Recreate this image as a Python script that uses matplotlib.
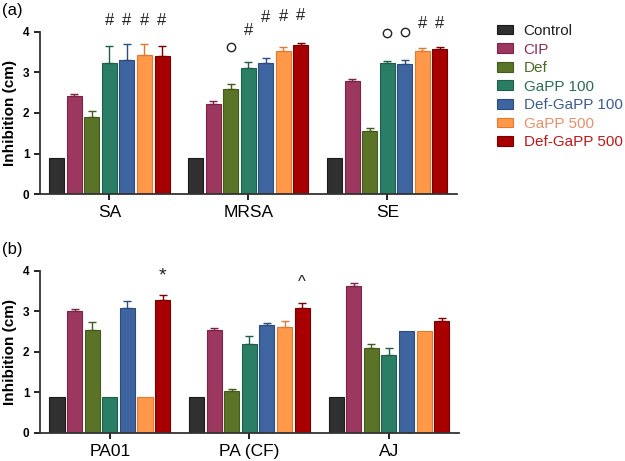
import numpy as np
import matplotlib
matplotlib.use('Agg')
import matplotlib.pyplot as plt
from matplotlib.patches import Patch

plt.rcParams['font.family'] = ['Liberation Sans', 'DejaVu Sans']

series = ['Control', 'CIP', 'Def', 'GaPP 100', 'Def-GaPP 100', 'GaPP 500', 'Def-GaPP 500']
colors = ['#303030', '#9c3760', '#597427', '#2a7e66', '#3f65a1', '#ff9848', '#a80000']
edges = ['#1a1a1a', '#7a2448', '#44591c', '#1d5f4c', '#2c4c7e', '#e07a30', '#7a0000']
text_colors = ['#202020', '#8a2f55', '#4d6a26', '#2a6e58', '#3d5c8c', '#e8906a', '#c01818']

groups_a = ['SA', 'MRSA', 'SE']
vals_a = [
    [0.90, 0.90, 0.90],   # Control
    [2.42, 2.21, 2.78],   # CIP
    [1.89, 2.60, 1.56],   # Def
    [3.23, 3.12, 3.24],   # GaPP 100
    [3.30, 3.23, 3.21],   # Def-GaPP 100
    [3.42, 3.52, 3.53],   # GaPP 500
    [3.40, 3.67, 3.57],   # Def-GaPP 500
]
errs_a = [
    [0.00, 0.00, 0.00],
    [0.04, 0.08, 0.05],
    [0.17, 0.11, 0.06],
    [0.42, 0.13, 0.05],
    [0.39, 0.12, 0.10],
    [0.29, 0.10, 0.07],
    [0.24, 0.06, 0.06],
]

groups_b = ['PA01', 'PA (CF)', 'AJ']
vals_b = [
    [0.89, 0.89, 0.89],
    [3.01, 2.53, 3.63],
    [2.54, 1.02, 2.09],
    [0.89, 2.19, 1.92],
    [3.09, 2.65, 2.50],
    [0.89, 2.60, 2.50],
    [3.28, 3.09, 2.77],
]
errs_b = [
    [0.00, 0.00, 0.00],
    [0.04, 0.05, 0.06],
    [0.20, 0.05, 0.10],
    [0.00, 0.19, 0.16],
    [0.16, 0.05, 0.00],
    [0.00, 0.17, 0.00],
    [0.12, 0.11, 0.06],
]

# significance marks: (group, series index, symbol, y)
marks_a = [(0, 3, '#', 4.28), (0, 4, '#', 4.28), (0, 5, '#', 4.28), (0, 6, '#', 4.28),
           (1, 2, 'o', 3.62), (1, 3, '#', 4.04), (1, 4, '#', 4.36), (1, 5, '#', 4.38), (1, 6, '#', 4.40),
           (2, 3, 'o', 3.96), (2, 4, 'o', 4.00), (2, 5, '#', 4.20), (2, 6, '#', 4.20)]
marks_b = [(0, 6, '*', 3.86), (1, 6, '^', 3.71)]

PITCH = 0.126
WIDTH = 0.108


def panel(ax, groups, vals, errs, marks, tag):
    x = np.arange(len(groups))
    for i, s in enumerate(series):
        pos = x + (i - 3) * PITCH
        ax.bar(pos, vals[i], WIDTH, color=colors[i], edgecolor=edges[i], lw=0.8, zorder=2)
        e = np.array(errs[i])
        has = e > 0
        if has.any():
            ax.errorbar(pos[has], np.array(vals[i])[has], yerr=[np.zeros(has.sum()), e[has]],
                        fmt='none', ecolor=edges[i], elinewidth=1.0, capsize=3, capthick=1.0, zorder=3)
    for g, i, sym, y in marks:
        px = g + (i - 3) * PITCH
        if sym == 'o':
            ax.plot(px, y, 'o', ms=6, mfc='none', mec='#222222', mew=1.0, clip_on=False)
        else:
            fs = 12 if sym != '*' else 14
            ax.text(px, y, sym, ha='center', va='center', fontsize=fs, color='#222222', clip_on=False)
    ax.set_xlim(-0.5, 2.5)
    ax.set_ylim(0, 4)
    ax.set_yticks([0, 1, 2, 3, 4])
    ax.set_xticks(x)
    ax.set_xticklabels(groups, fontsize=12.5)
    ax.tick_params(axis='y', labelsize=8.5, length=4, width=1.2, direction='out')
    ax.tick_params(axis='x', length=4, width=1.2, direction='out', pad=4)
    for lab in ax.get_yticklabels():
        lab.set_fontweight('bold')
    for sp in ('top', 'right'):
        ax.spines[sp].set_visible(False)
    for sp in ('left', 'bottom'):
        ax.spines[sp].set_linewidth(1.3)
        ax.spines[sp].set_color('#333333')
    ax.set_ylabel('Inhibition (cm)', fontsize=11, fontweight='bold', labelpad=4)
    ax.text(-0.09, 1.13, tag, transform=ax.transAxes, fontsize=12, ha='left', va='center')


fig = plt.figure(figsize=(6.25, 4.61), dpi=100)
ax1 = fig.add_axes([0.064, 0.579, 0.667, 0.352])
ax2 = fig.add_axes([0.064, 0.061, 0.670, 0.352])
panel(ax1, groups_a, vals_a, errs_a, marks_a, '(a)')
panel(ax2, groups_b, vals_b, errs_b, marks_b, '(b)')

handles = [Patch(facecolor=colors[i], edgecolor=edges[i], lw=0.8) for i in range(len(series))]
leg = fig.legend(handles, series, loc='upper left', bbox_to_anchor=(0.795, 0.948), frameon=False,
                 fontsize=11, handlelength=1.05, handleheight=0.6, handletextpad=0.7,
                 labelspacing=0.30, borderpad=0, borderaxespad=0)
for t, c in zip(leg.get_texts(), text_colors):
    t.set_color(c)

fig.savefig('out.png', dpi=100)
